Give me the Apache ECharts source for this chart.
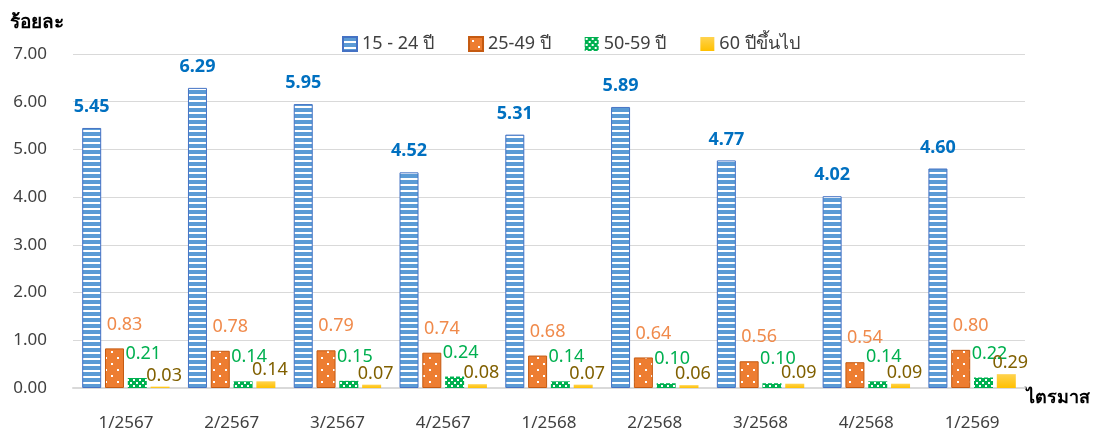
<!DOCTYPE html>
<html>
<head>
<meta charset="utf-8">
<script src="https://cdn.jsdelivr.net/npm/echarts@6/dist/echarts.min.js"></script>
<style>
  html, body { margin: 0; padding: 0; background: #fff; }
  #chart { width: 1093px; height: 435px; }
</style>
</head>
<body>
<div id="chart"></div>
<script>
var quarters = ['1/2567', '2/2567', '3/2567', '4/2567', '1/2568', '2/2568', '3/2568', '4/2568', '1/2569'];
var age15to24 = [5.45, 6.29, 5.95, 4.52, 5.31, 5.89, 4.77, 4.02, 4.60];
var age25to49 = [0.83, 0.78, 0.79, 0.74, 0.68, 0.64, 0.56, 0.54, 0.80];
var age50to59 = [0.21, 0.14, 0.15, 0.24, 0.14, 0.10, 0.10, 0.14, 0.22];
var age60up = [0.03, 0.14, 0.07, 0.08, 0.07, 0.06, 0.09, 0.09, 0.29];
var yTicks = [0, 1, 2, 3, 4, 5, 6, 7];

var font = "'Noto Sans', 'DejaVu Sans', sans-serif";

// small canvas tiles for the excel-like fills
var makeTile = function (w, h, draw) {
  var c = document.createElement('canvas');
  c.width = w;
  c.height = h;
  draw(c.getContext('2d'));
  return { image: c, repeat: 'repeat' };
};

var stripes = makeTile(6, 6, function (ctx) {
  ctx.fillStyle = '#fff';
  ctx.fillRect(0, 0, 6, 6);
  ctx.fillStyle = '#5B9BD5';
  ctx.fillRect(0, 0, 6, 4);
});

var orangeDots = makeTile(12, 12, function (ctx) {
  ctx.fillStyle = '#ED7D31';
  ctx.fillRect(0, 0, 12, 12);
  ctx.fillStyle = '#fff';
  ctx.fillRect(3, 3, 2, 2);
  ctx.fillRect(9, 9, 2, 2);
});

var greenDots = makeTile(6, 6, function (ctx) {
  ctx.fillStyle = '#00B050';
  ctx.fillRect(0, 0, 6, 6);
  ctx.fillStyle = '#fff';
  ctx.fillRect(1, 1, 2, 2);
  ctx.fillRect(4, 4, 2, 2);
});

var yellowFill = new echarts.graphic.LinearGradient(0, 0, 0, 1, [
  { offset: 0, color: '#FFD34F' },
  { offset: 1, color: '#FFC000' }
]);

var fmt = function (p) {
  return p.value.toFixed(2);
};

var bar = function (name, data, fill, border, labelColor, labelOpts) {
  return {
    name: name,
    type: 'bar',
    data: data,
    barWidth: 19,
    barGap: '20%',
    itemStyle: { color: fill, borderColor: border, borderWidth: border ? 1 : 0 },
    label: Object.assign({
      show: true,
      position: 'top',
      formatter: fmt,
      color: labelColor,
      fontFamily: font,
      fontSize: 18
    }, labelOpts)
  };
};

var chart = echarts.init(document.getElementById('chart'));

var option = {
  animation: false,
  backgroundColor: '#fff',
  textStyle: { fontFamily: font },
  grid: { left: 73, right: 68, top: 54, bottom: 47, outerBoundsMode: 'none' },
  legend: {
    left: 337,
    top: 30,
    icon: 'rect',
    itemWidth: 14,
    itemHeight: 14,
    itemGap: 34,
    textStyle: { fontFamily: font, fontSize: 18, color: '#404040' },
    data: ['15 - 24 ปี', '25-49 ปี', '50-59 ปี', '60 ปีขึ้นไป']
  },
  xAxis: {
    type: 'category',
    data: quarters,
    name: 'ไตรมาส',
    nameLocation: 'end',
    nameGap: 1,
    nameTextStyle: { fontFamily: font, fontSize: 18, fontWeight: 'bold', color: '#000', align: 'left', verticalAlign: 'top', lineHeight: 20 },
    axisLine: { lineStyle: { color: '#D9D9D9', width: 2 } },
    axisTick: { show: false },
    axisLabel: { color: '#404040', fontSize: 17, margin: 27, fontFamily: font }
  },
  yAxis: {
    type: 'value',
    min: yTicks[0],
    max: yTicks[yTicks.length - 1],
    interval: 1,
    name: 'ร้อยละ',
    nameLocation: 'end',
    nameGap: 22,
    nameTextStyle: { fontFamily: font, fontSize: 19, fontWeight: 'bold', color: '#000', align: 'right', padding: [0, 9, 0, 0] },
    axisLine: { show: false },
    axisTick: { show: false },
    splitLine: { lineStyle: { color: '#D9D9D9', width: 1 } },
    axisLabel: {
      color: '#404040',
      fontSize: 17,
      margin: 26,
      fontFamily: font,
      formatter: function (v) { return v.toFixed(2); }
    }
  },
  series: [
    bar('15 - 24 ปี', age15to24, stripes, '#4472C4', '#0070C0', { distance: 12, fontWeight: 'bold' }),
    bar('25-49 ปี', age25to49, orangeDots, '#C55A11', '#F08A4B', { distance: 15, offset: [10, 0] }),
    bar('50-59 ปี', age50to59, greenDots, null, '#00B050', { distance: 15, offset: [6, 0] }),
    bar('60 ปีขึ้นไป', age60up, yellowFill, null, '#806000', { distance: 2, offset: [4, 0] })
  ]
};

chart.setOption(option);
</script>
</body>
</html>
